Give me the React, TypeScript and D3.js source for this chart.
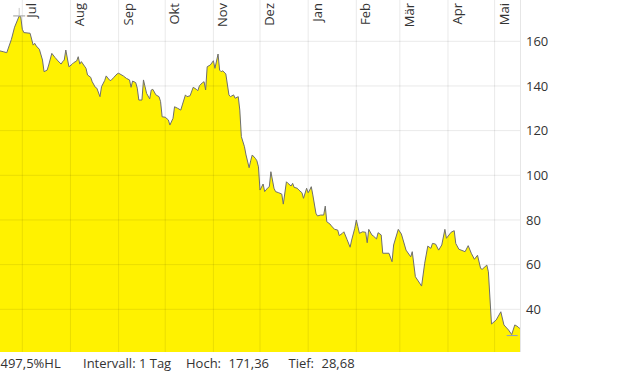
import React from "react";
import * as d3 from "d3";

const dates: string[] = [
  "2021-06-16","2021-06-19","2021-06-21","2021-06-24","2021-06-26","2021-06-29","2021-06-30",
  "2021-07-01","2021-07-02","2021-07-06","2021-07-08","2021-07-09","2021-07-10","2021-07-12","2021-07-14","2021-07-15","2021-07-17","2021-07-18","2021-07-20","2021-07-22","2021-07-24","2021-07-26","2021-07-27","2021-07-28","2021-07-29","2021-07-31",
  "2021-08-02","2021-08-03","2021-08-05","2021-08-06","2021-08-07","2021-08-08","2021-08-10","2021-08-11","2021-08-12","2021-08-14","2021-08-15","2021-08-17","2021-08-18","2021-08-20","2021-08-21","2021-08-23","2021-08-24","2021-08-26","2021-08-27","2021-08-29","2021-08-31",
  "2021-09-01","2021-09-04","2021-09-06","2021-09-08","2021-09-09","2021-09-10","2021-09-12","2021-09-13","2021-09-14","2021-09-16","2021-09-17","2021-09-19","2021-09-21","2021-09-22","2021-09-23","2021-09-25","2021-09-27","2021-09-28","2021-09-29",
  "2021-10-01","2021-10-03","2021-10-04","2021-10-06","2021-10-07","2021-10-09","2021-10-11","2021-10-12","2021-10-14","2021-10-15","2021-10-17","2021-10-19","2021-10-21","2021-10-22","2021-10-23","2021-10-25","2021-10-26","2021-10-27","2021-10-28","2021-10-30",
  "2021-11-01","2021-11-02","2021-11-04","2021-11-05","2021-11-06","2021-11-07","2021-11-09","2021-11-11","2021-11-12","2021-11-14","2021-11-15","2021-11-17","2021-11-18","2021-11-19","2021-11-21","2021-11-22","2021-11-24","2021-11-25","2021-11-26","2021-11-28","2021-11-29","2021-11-30",
  "2021-12-01","2021-12-03","2021-12-04","2021-12-06","2021-12-07","2021-12-08","2021-12-10","2021-12-11","2021-12-13","2021-12-15","2021-12-16","2021-12-18","2021-12-19","2021-12-21","2021-12-22","2021-12-23","2021-12-25","2021-12-26","2021-12-28","2021-12-29","2021-12-31",
  "2022-01-01","2022-01-02","2022-01-03","2022-01-04","2022-01-06","2022-01-07","2022-01-09","2022-01-11","2022-01-12","2022-01-13","2022-01-15","2022-01-16","2022-01-18","2022-01-20","2022-01-21","2022-01-23","2022-01-24","2022-01-26","2022-01-28","2022-01-29","2022-01-31",
  "2022-02-01","2022-02-02","2022-02-03","2022-02-05","2022-02-07","2022-02-08","2022-02-09","2022-02-11","2022-02-12","2022-02-14","2022-02-15","2022-02-17","2022-02-18","2022-02-22","2022-02-24","2022-02-25","2022-02-28",
  "2022-03-02","2022-03-05","2022-03-08","2022-03-09","2022-03-11","2022-03-15","2022-03-17","2022-03-19","2022-03-21","2022-03-22","2022-03-24","2022-03-26","2022-03-28","2022-03-30","2022-03-31",
  "2022-04-03","2022-04-05","2022-04-06","2022-04-08","2022-04-12","2022-04-14","2022-04-16","2022-04-18","2022-04-20","2022-04-22","2022-04-23","2022-04-26","2022-04-27","2022-04-29",
  "2022-05-02","2022-05-05","2022-05-07","2022-05-10","2022-05-12","2022-05-14","2022-05-16","2022-05-17","2022-05-19",
];

const values: number[] = [
  155.8,155.3,154.9,160.9,166.3,171.36,171.0,
  165.4,163.9,163.6,158.3,159.1,157.9,156.4,151.6,146.4,147.1,149.4,154.6,152.8,151.2,149.8,150.9,151.6,156.1,148.6,
  149.7,150.4,151.2,153.1,149.8,150.9,148.9,147.9,144.9,143.9,141.9,139.4,139.0,135.2,139.7,142.4,144.5,142.7,142.4,143.9,145.4,
  145.7,144.5,143.4,142.7,139.4,142.2,141.5,139.0,133.7,133.7,142.7,136.7,134.2,138.2,138.5,136.0,135.2,133.0,126.2,
  126.0,124.8,122.5,125.5,130.7,130.0,129.2,131.5,136.0,135.2,135.6,139.4,138.5,137.9,140.1,141.5,141.9,138.2,148.6,149.4,
  151.3,147.9,154.3,147.1,146.4,146.8,145.4,136.0,135.2,136.0,134.5,135.2,129.2,117.3,112.8,109.1,103.4,106.5,109.1,107.6,106.5,103.8,
  93.4,96.1,92.7,94.4,94.9,101.6,94.2,92.7,92.2,91.6,87.1,97.1,96.4,95.2,96.4,94.6,94.2,93.4,92.2,89.7,94.2,
  92.2,93.4,94.9,91.2,83.0,81.8,82.2,82.2,86.2,79.2,78.2,77.3,75.8,75.5,73.0,74.0,74.7,71.3,67.8,71.0,76.3,
  80.0,77.0,74.0,74.7,74.5,69.8,75.8,73.3,72.8,71.5,74.3,73.3,65.1,65.1,61.3,68.8,75.8,
  73.7,66.5,63.5,65.8,54.6,50.4,60.6,68.3,67.3,69.5,69.2,66.5,68.8,75.8,71.8,
  74.5,75.2,69.5,66.9,65.8,68.5,65.1,62.4,64.2,58.3,57.9,59.8,56.8,33.4,
  35.2,38.9,33.0,30.7,28.68,33.0,32.2,31.5,32.5,
];

const monthTickDates: string[] = [
  "2021-07-01","2021-08-01","2021-09-01","2021-10-01","2021-11-01","2021-12-01",
  "2022-01-01","2022-02-01","2022-03-01","2022-04-01","2022-05-01",
];
const monthLabels: string[] = ["Jul","Aug","Sep","Okt","Nov","Dez","Jan","Feb","Mär","Apr","Mai"];

const yTicks: number[] = [40, 60, 80, 100, 120, 140, 160];

const footerLabels: string[] = ["497,5%HL", "Intervall: 1 Tag", "Hoch:", "171,36", "Tief:", "28,68"];
const footerX: number[] = [0.5, 83, 186, 228.5, 288.5, 321.5];

const W = 620;
const H = 372;
const plotW = 521;
const plotH = 352;
const FONT = "'Open Sans', sans-serif";

export default function App() {
  const parse = d3.timeParse("%Y-%m-%d");
  const data = dates.map((d, i) => ({ date: parse(d) as Date, value: values[i] }));
  const ticks = monthTickDates.map((d) => parse(d) as Date);

  // x scale anchored on the month gridlines
  const x = d3
    .scaleTime()
    .domain([ticks[0], ticks[ticks.length - 1]])
    .range([22.3, 494.6]);

  const pxPerUnit = 268 / 120;
  const yMax = 160 + 41.3 / pxPerUnit;
  const yMin = 160 - (plotH - 41.3) / pxPerUnit;
  const y = d3.scaleLinear().domain([yMin, yMax]).range([plotH, 0]);

  const area = d3
    .area<{ date: Date; value: number }>()
    .x((d) => x(d.date))
    .y0(plotH)
    .y1((d) => y(d.value));
  const line = d3
    .line<{ date: Date; value: number }>()
    .x((d) => x(d.date))
    .y((d) => y(d.value));

  const hi = data.reduce((a, b) => (b.value > a.value ? b : a));
  const lo = data.reduce((a, b) => (b.value < a.value ? b : a));

  return (
    <div style={{ position: "fixed", left: 0, top: 0, width: W, height: H, background: "#fff" }}>
      <svg width={W} height={H} style={{ display: "block" }}>
        <defs>
          <clipPath id="plotClip">
            <rect x={0} y={0} width={plotW} height={plotH} />
          </clipPath>
        </defs>
        <g clipPath="url(#plotClip)">
          <path d={area(data) || ""} fill="#fff200" />
          {yTicks.map((t) => (
            <line key={"h" + t} x1={0} x2={plotW} y1={y(t)} y2={y(t)} stroke="rgba(0,0,0,0.085)" strokeWidth={1} />
          ))}
          {ticks.map((t, i) => (
            <line key={"v" + i} x1={x(t)} x2={x(t)} y1={0} y2={plotH} stroke="rgba(0,0,0,0.085)" strokeWidth={1} />
          ))}
          <path d={line(data) || ""} fill="none" stroke="#6e6e6e" strokeWidth={1} strokeLinejoin="round" />
          <line x1={x(hi.date) - 6} x2={x(hi.date) + 6} y1={y(hi.value)} y2={y(hi.value)} stroke="#9a9a9a" strokeWidth={1} />
          <line x1={x(hi.date)} x2={x(hi.date)} y1={y(hi.value) - 8} y2={y(hi.value)} stroke="#c8c8c8" strokeWidth={1} />
          <line x1={x(lo.date) - 5} x2={x(lo.date) + 6} y1={y(lo.value) + 1} y2={y(lo.value) + 1} stroke="#8b9bc9" strokeWidth={1} />
        </g>
        <line x1={plotW - 0.5} x2={plotW - 0.5} y1={0} y2={plotH} stroke="#e6e6e6" strokeWidth={1} />
        {ticks.map((t, i) => (
          <text
            key={"m" + i}
            transform={`translate(${x(t) + 14},3) rotate(-90)`}
            textAnchor="end"
            fontFamily={FONT}
            fontSize={13}
            fill="#333"
          >
            {monthLabels[i]}
          </text>
        ))}
        {yTicks.map((t) => (
          <text key={"y" + t} x={526} y={y(t) + 4.6} fontFamily={FONT} fontSize={13} fill="#333">
            {t}
          </text>
        ))}
        {footerLabels.map((s, i) => (
          <text key={"f" + i} x={footerX[i]} y={367.5} fontFamily={FONT} fontSize={13} fill="#333">
            {s}
          </text>
        ))}
      </svg>
    </div>
  );
}
